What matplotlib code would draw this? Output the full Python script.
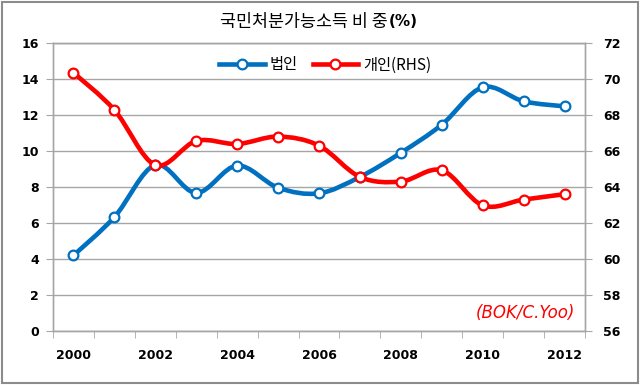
import numpy as np
import matplotlib.pyplot as plt
from matplotlib.path import Path
from matplotlib.patches import PathPatch, Rectangle
from matplotlib.lines import Line2D

plt.rcParams['font.family'] = ['DejaVu Sans', 'Noto Sans CJK KR']

years = [2000, 2001, 2002, 2003, 2004, 2005, 2006, 2007, 2008, 2009, 2010, 2011, 2012]
corp = [4.2, 6.33, 9.22, 7.67, 9.19, 7.96, 7.65, 8.56, 9.9, 11.46, 13.54, 12.76, 12.48]
house = [70.35, 68.28, 65.22, 66.56, 66.39, 66.8, 66.3, 64.56, 64.3, 64.93, 62.98, 63.3, 63.6]

title = '국민처분가능소득 비 중'
corp_label = '법인'
house_label = '개인(RHS)'
source = '(BOK/C.Yoo)'

BLUE = '#0070C0'
RED = '#FF0000'
GRID = '#A6A6A6'
KR = ['Noto Sans CJK KR', 'DejaVu Sans']


def smooth_path(x, y):
    # Excel-style smoothed line: Catmull-Rom through the points as bezier curves
    pts = np.column_stack([x, y]).astype(float)
    n = len(pts)
    verts = [pts[0]]
    codes = [Path.MOVETO]
    for i in range(n - 1):
        p0 = pts[max(i - 1, 0)]
        p1 = pts[i]
        p2 = pts[i + 1]
        p3 = pts[min(i + 2, n - 1)]
        verts += [p1 + (p2 - p0) / 6, p2 - (p3 - p1) / 6, p2]
        codes += [Path.CURVE4] * 3
    return Path(verts, codes)


fig = plt.figure(figsize=(6.4, 3.85), dpi=100)
fig.patches.append(Rectangle((0.003, 0.004), 0.994, 0.991, transform=fig.transFigure,
                             fill=False, edgecolor='#8C8C8C', lw=1.5))

ax = fig.add_axes([53 / 640, 1 - 331 / 385, 532 / 640, 288 / 385])
ax2 = ax.twinx()

x = np.arange(len(years))

ax.add_patch(PathPatch(smooth_path(x, corp), fill=False, edgecolor=BLUE, lw=3.3,
                       capstyle='round', joinstyle='round', zorder=3))
ax.plot(x, corp, 'o', ls='none', ms=7, mfc='white', mec=BLUE, mew=1.6, zorder=4)

ax2.add_patch(PathPatch(smooth_path(x, house), fill=False, edgecolor=RED, lw=3.3,
                        capstyle='round', joinstyle='round', zorder=3))
ax2.plot(x, house, 'o', ls='none', ms=7, mfc='white', mec=RED, mew=1.6, zorder=4)

ax.set_xlim(-0.5, len(years) - 0.5)
ax.set_ylim(0, 16)
ax2.set_ylim(56, 72)
ax.set_yticks(range(0, 17, 2))
ax2.set_yticks(range(56, 73, 2))

ax.set_xticks(x[::2])
ax.set_xticklabels([str(y) for y in years[::2]])
ax.set_xticks(np.arange(-0.5, len(years), 1), minor=True)
ax.tick_params(axis='x', which='major', length=0, pad=13)
ax.tick_params(axis='x', which='minor', length=5, color=GRID, direction='out')
ax.tick_params(axis='y', length=5, color=GRID, pad=5)
ax2.tick_params(axis='y', length=5, color=GRID, pad=8)

for lab in ax.get_xticklabels() + ax.get_yticklabels() + ax2.get_yticklabels():
    lab.set_fontsize(9)
    lab.set_fontweight('bold')

ax.grid(axis='y', color=GRID, lw=1)
ax.set_axisbelow(True)
for a in (ax, ax2):
    for s in a.spines.values():
        s.set_color(GRID)
        s.set_linewidth(1)

ax2.text(0.981, 0.062, source, transform=ax.transAxes, ha='right', va='center',
         color=RED, fontsize=12, style='italic')

# title: korean part, then bold "(%)" right after it
t = fig.text(220 / 640, 1 - 22 / 385, title, ha='left', va='center', fontsize=12.5,
             family=KR)
ax.annotate('(%)', xy=(1, 0.5), xycoords=t, xytext=(1, 0), textcoords='offset points',
            ha='left', va='center', fontsize=11, fontweight='bold', annotation_clip=False)

handles = [
    Line2D([], [], color=BLUE, lw=3.3, marker='o', ms=7, mfc='white', mec=BLUE, mew=1.6),
    Line2D([], [], color=RED, lw=3.3, marker='o', ms=7, mfc='white', mec=RED, mew=1.6),
]
fig.legend(handles, [corp_label, house_label], loc='center', ncol=2, frameon=False,
           bbox_to_anchor=(325 / 640, 1 - 65 / 385), handlelength=3.0, columnspacing=1.0,
           handletextpad=0.3, prop={'family': KR, 'size': 11})

fig.savefig('out.png', dpi=100)
